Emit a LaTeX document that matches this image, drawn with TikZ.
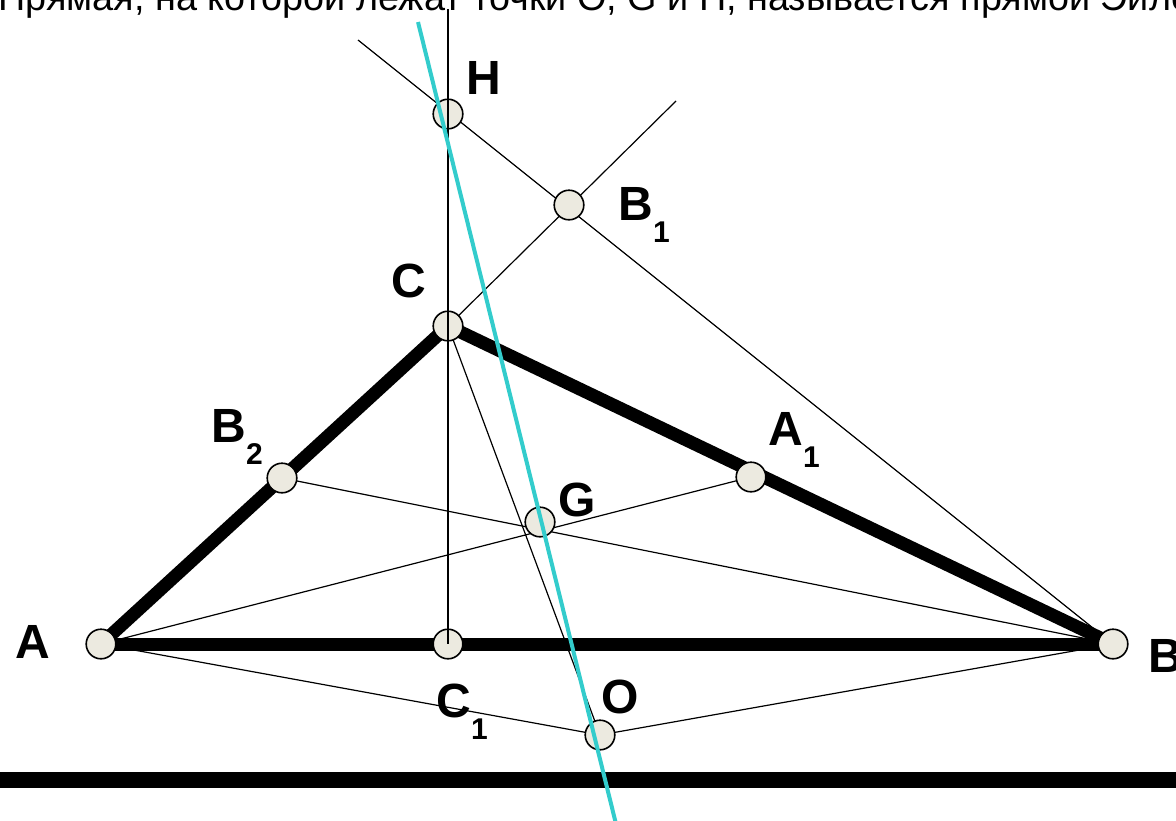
\documentclass[tikz,border=0pt]{standalone}
\usepackage{fontspec}
\setmainfont{Liberation Sans}
\usetikzlibrary{calc}

% point name with a lowered index
\newcommand{\ptname}[2]{#1\raisebox{-11pt}{\fontsize{15}{15}\selectfont #2}}

\begin{document}
\begin{tikzpicture}[x=0.5pt, y=-0.5pt,
    pt/.style={circle, draw=black, line width=0.8pt, fill=ptfill, minimum size=14.8pt, inner sep=0pt},
    lbl/.style={anchor=base west, inner sep=0pt, font=\fontsize{24}{24}\selectfont\bfseries},
    aux/.style={line width=0.6pt, black},
    side/.style={line width=6.5pt, black},
    euler/.style={line width=2pt, mycyan}]

%my colors
\definecolor{ptfill}{rgb}{0.925, 0.918, 0.878}
\definecolor{mycyan}{rgb}{0.2, 0.8, 0.8}

    % frame of the picture
    \useasboundingbox (0,0) rectangle (1176,820);
    \clip (0,0) rectangle (1176,820);

    % vertices of the triangle
    \coordinate (A) at (101,644);
    \coordinate (B) at (1113,644);
    \coordinate (C) at (448,326);

    % midpoints, centroid, orthocenter, circumcenter
    \coordinate (A1) at (751,477);
    \coordinate (B2) at (282,478);
    \coordinate (C1) at (448,644);
    \coordinate (B1) at (569,205);
    \coordinate (H) at (448,114);
    \coordinate (G) at (540,522);
    \coordinate (O) at (600,735);

    % free ends of the long lines
    \coordinate (Vtop) at (448,9);
    \coordinate (HBend) at (358,40);
    \coordinate (CBend) at (676,101);
    \coordinate (Etop) at (418,22);
    \coordinate (Ebot) at (617,828);
    \coordinate (Bleft) at (-10,780);
    \coordinate (Bright) at (1190,780);

    % caption (cut off by the frame)
    \node[anchor=base west, inner sep=0pt, font=\fontsize{18.9}{18.9}\selectfont] (title) at (-2,10)
        {Прямая, на которой лежат точки O, G и H, называется прямой Эйлера};

    % thin construction lines
    \draw[aux] (HBend) -- (B);
    \draw[aux] (C) -- (CBend);
    \draw[aux] (A) -- (A1);
    \draw[aux] (B2) -- (B);
    \draw[aux] (C) -- (O);
    \draw[aux] (A) -- (O) -- (B);

    % sides of the triangle
    \draw[side] (A) -- (B);
    \draw[side] (B) -- (C);
    \draw[side] (C) -- (A);

    % base line
    \draw[line width=8pt] (Bleft) -- (Bright);

    % the points
    \foreach \p in {A,B,C,A1,B2,C1,B1,H,G,O}
        \node[pt] (n\p) at (\p) {};

    % altitude from C
    \draw[line width=0.7pt] (Vtop) -- (C1);

    % Euler line
    \draw[euler] (Etop) -- (Ebot);

    % names of the points
    \node[lbl] (labA) at (15,658) {A};
    \node[lbl] (labB) at (1148,672) {B};
    \node[lbl] (labC) at (391,297) {C};
    \node[lbl] (labH) at (466,94) {H};
    \node[lbl] (labG) at (558,516) {G};
    \node[lbl] (labO) at (601,713) {O};
    \node[lbl] (labA1) at (768,445) {\ptname{A}{1}};
    \node[lbl] (labB1) at (618,220) {\ptname{B}{1}};
    \node[lbl] (labB2) at (211,442) {\ptname{B}{2}};
    \node[lbl] (labC1) at (436,717) {\ptname{C}{1}};

\end{tikzpicture}
\end{document}
